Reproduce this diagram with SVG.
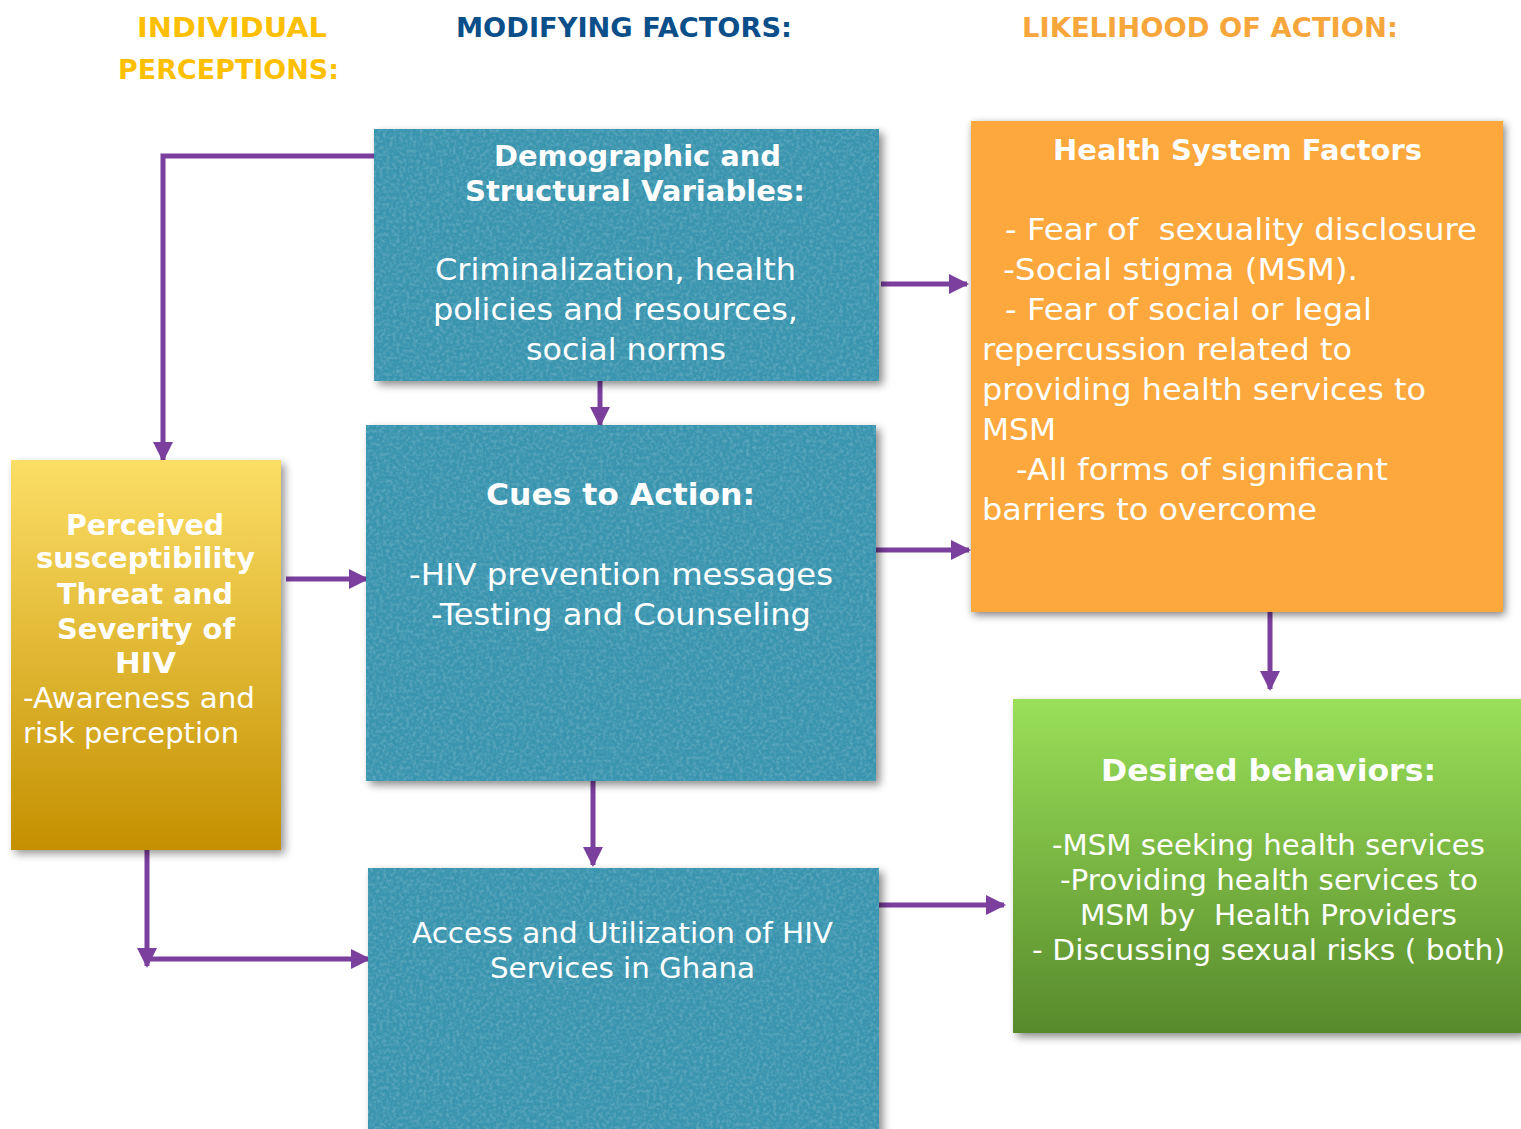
<svg xmlns="http://www.w3.org/2000/svg" width="1521" height="1129" viewBox="0 0 1521 1129">
  <defs>
    <style>
      .hdr { font-family: "DejaVu Sans", "Liberation Sans", sans-serif; font-weight: bold; font-size: 26px; }
      .b { font-family: "DejaVu Sans", Verdana, sans-serif; font-weight: bold; fill: #fff; }
      .r { font-family: "DejaVu Sans", Verdana, sans-serif; fill: #fff; }
      .wire { fill: none; stroke: #7b3f9e; stroke-width: 5; }
    </style>
    <linearGradient id="goldFill" x1="0" y1="0" x2="0" y2="1">
      <stop offset="0" stop-color="#fcde66"/>
      <stop offset="1" stop-color="#c49000"/>
    </linearGradient>
    <linearGradient id="greenFill" x1="0" y1="0" x2="0" y2="1">
      <stop offset="0" stop-color="#9ae059"/>
      <stop offset="1" stop-color="#578a2b"/>
    </linearGradient>
    <filter id="shadow" x="-10%" y="-10%" width="125%" height="125%">
      <feGaussianBlur stdDeviation="4"/>
    </filter>
    <!-- mottled teal surface -->
    <filter id="grain" x="0" y="0" width="1" height="1">
      <feTurbulence type="fractalNoise" baseFrequency="0.3" numOctaves="2" seed="11" result="n"/>
      <feColorMatrix in="n" type="matrix" values="0 0 0 0 0.10  0 0 0 0 0.38  0 0 0 0 0.50  0 0 0 2.6 -1.05" result="dark"/>
      <feComposite in="dark" in2="SourceGraphic" operator="in" result="spots"/>
      <feMerge>
        <feMergeNode in="SourceGraphic"/>
        <feMergeNode in="spots"/>
      </feMerge>
    </filter>
    <marker id="arrow" viewBox="0 0 10 10" refX="9" refY="5" markerWidth="4" markerHeight="4" orient="auto" markerUnits="strokeWidth">
      <path d="M0,0 L10,5 L0,10 Z" fill="#7b3f9e"/>
    </marker>
  </defs>

  <rect width="1521" height="1129" fill="#fff"/>

  <!-- column headings -->
  <g id="headings">
    <text class="hdr" x="137" y="37" fill="#fdbf00" textLength="190" lengthAdjust="spacingAndGlyphs">INDIVIDUAL</text>
    <text class="hdr" x="118" y="79" fill="#fdbf00" textLength="221" lengthAdjust="spacingAndGlyphs">PERCEPTIONS:</text>
    <text class="hdr" x="456" y="37" fill="#0a4f8a" textLength="336" lengthAdjust="spacingAndGlyphs">MODIFYING FACTORS:</text>
    <text class="hdr" x="1022" y="37" fill="#f7a63c" textLength="376" lengthAdjust="spacingAndGlyphs">LIKELIHOOD OF ACTION:</text>
  </g>

  <!-- connectors -->
  <g id="connectors">
    <polyline class="wire" points="374,156 163,156 163,460" marker-end="url(#arrow)"/>
    <line class="wire" x1="600" y1="381" x2="600" y2="425" marker-end="url(#arrow)"/>
    <line class="wire" x1="881" y1="284" x2="967" y2="284" marker-end="url(#arrow)"/>
    <line class="wire" x1="876" y1="550" x2="969" y2="550" marker-end="url(#arrow)"/>
    <line class="wire" x1="286" y1="579" x2="367" y2="579" marker-end="url(#arrow)"/>
    <line class="wire" x1="593" y1="778" x2="593" y2="865" marker-end="url(#arrow)"/>
    <line class="wire" x1="147" y1="842" x2="147" y2="966" marker-end="url(#arrow)"/>
    <line class="wire" x1="150" y1="959" x2="369" y2="959" marker-end="url(#arrow)"/>
    <line class="wire" x1="1270" y1="612" x2="1270" y2="689" marker-end="url(#arrow)"/>
    <line class="wire" x1="879" y1="905" x2="1004" y2="905" marker-end="url(#arrow)"/>
  </g>

  <!-- Demographic and Structural Variables -->
  <g id="demographic">
    <rect x="378" y="133" width="505" height="252" fill="#000" opacity="0.45" filter="url(#shadow)"/>
    <rect x="374" y="129" width="505" height="252" fill="#3894af" filter="url(#grain)"/>
    <text class="b" font-size="28" x="494" y="166" textLength="287" lengthAdjust="spacingAndGlyphs">Demographic and</text>
    <text class="b" font-size="28" x="465" y="201" textLength="340" lengthAdjust="spacingAndGlyphs">Structural Variables:</text>
    <text class="r" font-size="30" x="435" y="280" textLength="361" lengthAdjust="spacingAndGlyphs">Criminalization, health</text>
    <text class="r" font-size="30" x="433" y="320" textLength="365" lengthAdjust="spacingAndGlyphs">policies and resources,</text>
    <text class="r" font-size="30" x="526" y="360" textLength="200" lengthAdjust="spacingAndGlyphs">social norms</text>
  </g>

  <!-- Cues to Action -->
  <g id="cues">
    <rect x="370" y="429" width="510" height="356" fill="#000" opacity="0.45" filter="url(#shadow)"/>
    <rect x="366" y="425" width="510" height="356" fill="#3894af" filter="url(#grain)"/>
    <text class="b" font-size="30" x="486" y="505" textLength="269" lengthAdjust="spacingAndGlyphs">Cues to Action:</text>
    <text class="r" font-size="30" x="409" y="585" textLength="424" lengthAdjust="spacingAndGlyphs">-HIV prevention messages</text>
    <text class="r" font-size="30" x="431" y="625" textLength="380" lengthAdjust="spacingAndGlyphs">-Testing and Counseling</text>
  </g>

  <!-- Access and Utilization -->
  <g id="access">
    <rect x="372" y="872" width="511" height="270" fill="#000" opacity="0.45" filter="url(#shadow)"/>
    <rect x="368" y="868" width="511" height="270" fill="#3894af" filter="url(#grain)"/>
    <text class="r" font-size="28" x="412" y="943" textLength="421" lengthAdjust="spacingAndGlyphs">Access and Utilization of HIV</text>
    <text class="r" font-size="28" x="490" y="978" textLength="265" lengthAdjust="spacingAndGlyphs">Services in Ghana</text>
  </g>

  <!-- Perceived susceptibility -->
  <g id="perceived">
    <rect x="15" y="464" width="270" height="390" fill="#000" opacity="0.4" filter="url(#shadow)"/>
    <rect x="11" y="460" width="270" height="390" fill="url(#goldFill)"/>
    <text class="b" font-size="29" x="66" y="535" textLength="158" lengthAdjust="spacingAndGlyphs">Perceived</text>
    <text class="b" font-size="29" x="36" y="568" textLength="219" lengthAdjust="spacingAndGlyphs">susceptibility</text>
    <text class="b" font-size="29" x="57" y="604" textLength="176" lengthAdjust="spacingAndGlyphs">Threat and</text>
    <text class="b" font-size="29" x="57" y="639" textLength="178" lengthAdjust="spacingAndGlyphs">Severity of</text>
    <text class="b" font-size="29" x="115" y="673" textLength="61" lengthAdjust="spacingAndGlyphs">HIV</text>
    <text class="r" font-size="29" x="23" y="708" textLength="232" lengthAdjust="spacingAndGlyphs">-Awareness and</text>
    <text class="r" font-size="29" x="23" y="743" textLength="216" lengthAdjust="spacingAndGlyphs">risk perception</text>
  </g>

  <!-- Health System Factors -->
  <g id="health-system">
    <rect x="973" y="124" width="532" height="491" fill="#000" opacity="0.5" filter="url(#shadow)"/>
    <rect x="971" y="121" width="532" height="491" fill="#fda83c"/>
    <text class="b" font-size="28" x="1053" y="160" textLength="369" lengthAdjust="spacingAndGlyphs">Health System Factors</text>
    <text class="r" font-size="30" x="1005" y="240" xml:space="preserve" textLength="472" lengthAdjust="spacingAndGlyphs">- Fear of  sexuality disclosure</text>
    <text class="r" font-size="30" x="1003" y="280" textLength="355" lengthAdjust="spacingAndGlyphs">-Social stigma (MSM).</text>
    <text class="r" font-size="30" x="1005" y="320" textLength="367" lengthAdjust="spacingAndGlyphs">- Fear of social or legal</text>
    <text class="r" font-size="30" x="982" y="360" textLength="370" lengthAdjust="spacingAndGlyphs">repercussion related to</text>
    <text class="r" font-size="30" x="982" y="400" textLength="444" lengthAdjust="spacingAndGlyphs">providing health services to</text>
    <text class="r" font-size="30" x="982" y="440" textLength="74" lengthAdjust="spacingAndGlyphs">MSM</text>
    <text class="r" font-size="30" x="1016" y="480" textLength="372" lengthAdjust="spacingAndGlyphs">-All forms of significant</text>
    <text class="r" font-size="30" x="982" y="520" textLength="335" lengthAdjust="spacingAndGlyphs">barriers to overcome</text>
  </g>

  <!-- Desired behaviors -->
  <g id="desired">
    <rect x="1017" y="703" width="508" height="334" fill="#000" opacity="0.45" filter="url(#shadow)"/>
    <rect x="1013" y="699" width="508" height="334" fill="url(#greenFill)"/>
    <text class="b" font-size="30" x="1101" y="781" textLength="335" lengthAdjust="spacingAndGlyphs">Desired behaviors:</text>
    <text class="r" font-size="28" x="1052" y="855" textLength="433" lengthAdjust="spacingAndGlyphs">-MSM seeking health services</text>
    <text class="r" font-size="28" x="1060" y="890" textLength="418" lengthAdjust="spacingAndGlyphs">-Providing health services to</text>
    <text class="r" font-size="28" x="1080" y="925" xml:space="preserve" textLength="377" lengthAdjust="spacingAndGlyphs">MSM by  Health Providers</text>
    <text class="r" font-size="28" x="1032" y="960" textLength="473" lengthAdjust="spacingAndGlyphs">- Discussing sexual risks ( both)</text>
  </g>
</svg>
